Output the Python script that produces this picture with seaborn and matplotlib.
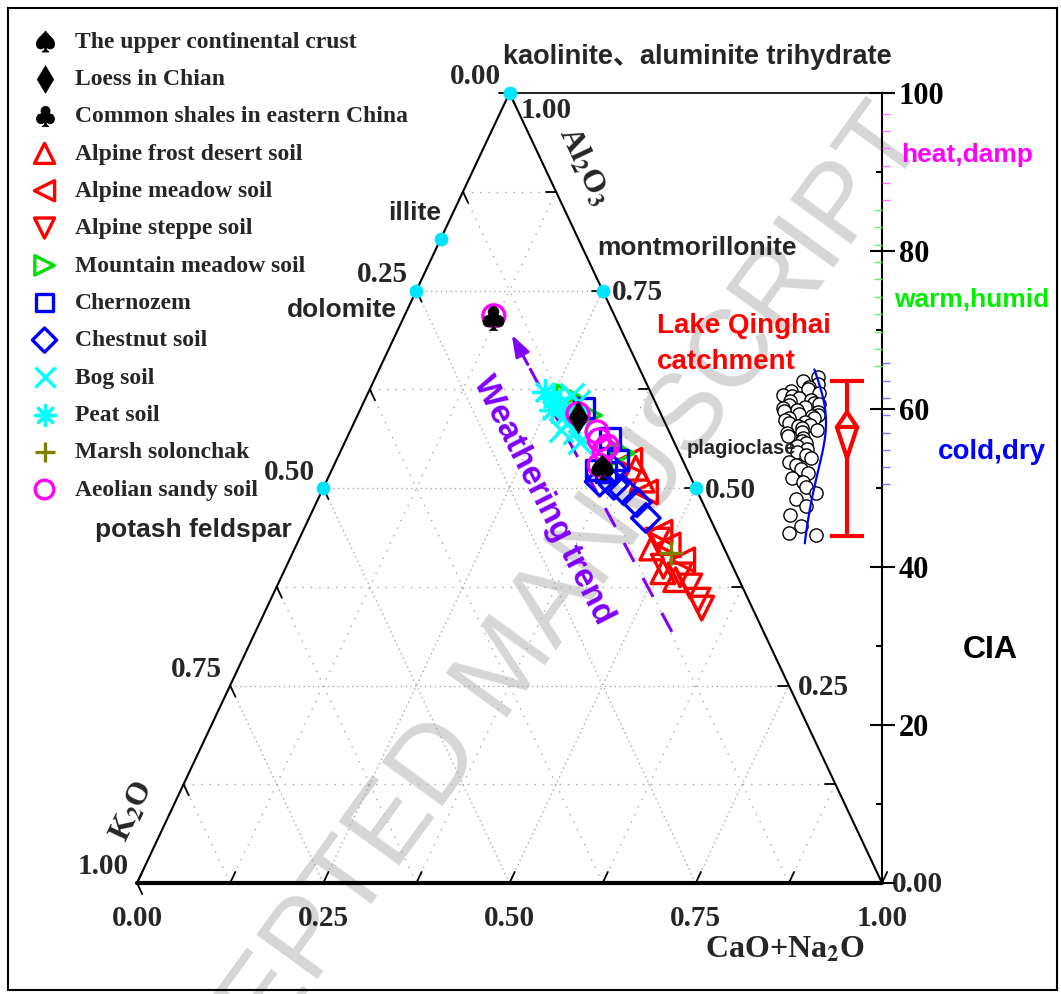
import numpy as np
import pandas as pd
import matplotlib
matplotlib.use('Agg')
import matplotlib.pyplot as plt
from matplotlib.patches import Rectangle
import seaborn as sns

ucc = [(0.527, 0.361)]
loess = [(0.590, 0.297)]
shale = [(0.715, 0.121)]
frost_desert = [(0.525, 0.407), (0.510, 0.423), (0.424, 0.479), (0.394, 0.509), (0.384, 0.531)]
alpine_meadow = [(0.535, 0.394), (0.495, 0.435), (0.444, 0.480), (0.428, 0.499), (0.409, 0.528)]
alpine_steppe = [(0.434, 0.482), (0.401, 0.506), (0.390, 0.534), (0.376, 0.554), (0.358, 0.574), (0.348, 0.584)]
mountain_meadow = [(0.616, 0.271), (0.592, 0.312), (0.544, 0.380)]
chernozem = [(0.601, 0.300), (0.563, 0.353), (0.535, 0.378), (0.520, 0.370), (0.523, 0.355)]
chestnut = [(0.508, 0.367), (0.504, 0.388), (0.497, 0.405), (0.482, 0.430), (0.462, 0.452), (0.523, 0.377)]
bog = [(0.618, 0.275), (0.609, 0.288), (0.584, 0.287), (0.571, 0.302), (0.558, 0.316), (0.573, 0.283)]
peat = [(0.622, 0.237), (0.614, 0.251), (0.605, 0.265), (0.599, 0.258), (0.594, 0.279)]
marsh = [(0.418, 0.508)]
aeolian = [(0.718, 0.120), (0.594, 0.295), (0.571, 0.332), (0.561, 0.340), (0.548, 0.353),
           (0.553, 0.355), (0.529, 0.356)]

minerals = ['kaolinite', 'illite', 'dolomite', 'montmorillonite', 'potash feldspar', 'plagioclase']
mineral_comp = [(1.0, 0.0), (0.815, 0.0), (0.75, 0.0), (0.75, 0.25), (0.5, 0.0), (0.5, 0.5)]

# weathering trend arrow, tail and head compositions
trend_start = (0.318, 0.559)
trend_end = (0.694, 0.156)

# CIA of catchment samples (right-hand strip)
cia_samples = [64.0, 63.5, 63.2, 62.8, 62.5, 62.3, 62.0, 61.8, 61.6, 61.4, 61.2, 61.0, 60.8, 60.6,
               60.5, 60.3, 60.1, 59.9, 59.8, 59.6, 59.4, 59.3, 59.1, 58.9, 58.8, 58.6, 58.4, 58.2,
               58.0, 57.8, 57.6, 57.4, 57.1, 56.9, 56.6, 56.3, 56.0, 55.7, 55.3, 55.0, 54.6, 54.2,
               53.8, 53.3, 52.9, 52.4, 51.9, 51.3, 50.7, 50.1, 49.4, 48.6, 47.7, 46.6, 45.2, 44.3, 44.0]
cia_range = (43.9, 63.5)
cia_diamond = (53.8, 57.7, 59.6)  # low, centre, high

# coloured marks on the CIA axis
heat_damp_ticks = [97.4, 95.2, 93.0, 90.8, 88.6, 86.5]
warm_humid_ticks = [85.2, 83.0, 80.8, 78.6, 76.4, 74.2, 72.0, 69.8, 67.6, 65.4]
cold_dry_ticks = [65.8, 63.6, 61.4, 59.2, 57.0, 54.8, 52.6, 50.5]

tern_ticks = [0, 0.125, 0.25, 0.375, 0.5, 0.625, 0.75, 0.875, 1.0]
tern_labels = ['0.00', '0.25', '0.50', '0.75', '1.00']
cia_ticks = [0, 20, 40, 60, 80, 100]

W, H = 1061, 994


def fx(px):
    return px / W


def fy(py):
    return 1 - py / H


def to_xy(al, cn):
    return cn + al / 2, al


series = {
    'The upper continental crust': ucc,
    'Loess in Chian': loess,
    'Common shales in eastern China': shale,
    'Alpine frost desert soil': frost_desert,
    'Alpine meadow soil': alpine_meadow,
    'Alpine steppe soil': alpine_steppe,
    'Mountain meadow soil': mountain_meadow,
    'Chernozem': chernozem,
    'Chestnut soil': chestnut,
    'Bog soil': bog,
    'Peat soil': peat,
    'Marsh solonchak': marsh,
    'Aeolian sandy soil': aeolian,
}
rows = []
for name, pts in series.items():
    for al, cn in pts:
        rows.append({'group': name, 'Al2O3': al, 'CN': cn})
df = pd.DataFrame(rows)
df['K2O'] = 1 - df['Al2O3'] - df['CN']
df['x'], df['y'] = to_xy(df['Al2O3'], df['CN'])

# marker styles: (marker, colour, kind, size, zorder)
styles = {
    'The upper continental crust': (r'$\spadesuit$', 'black', 'solid', 320, 12),
    'Loess in Chian': ('d', 'black', 'solid', 270, 12),
    'Common shales in eastern China': (r'$\clubsuit$', 'black', 'solid', 300, 12),
    'Alpine frost desert soil': ('^', '#ff0000', 'open', 290, 3),
    'Alpine meadow soil': ('<', '#ff0000', 'open', 290, 3),
    'Alpine steppe soil': ('v', '#ff0000', 'open', 290, 3),
    'Mountain meadow soil': ('>', '#00dd00', 'open', 270, 4),
    'Chernozem': ('s', '#0000ff', 'open', 210, 5),
    'Chestnut soil': ('D', '#0000ff', 'open', 210, 5),
    'Bog soil': ('x', '#00ffff', 'line', 290, 6),
    'Peat soil': ((8, 2, 0), '#00ffff', 'line', 290, 6),
    'Marsh solonchak': ('+', '#808000', 'line', 290, 7),
    'Aeolian sandy soil': ('o', '#ff00ff', 'open', 250, 8),
}

sns.set_style('white')
plt.rcParams['font.family'] = ['Liberation Sans', 'Noto Sans CJK SC']
plt.rcParams['mathtext.fontset'] = 'stix'

fig = plt.figure(figsize=(W / 100, H / 100), dpi=100)
ax = fig.add_axes([fx(137), fy(883), 745 / W, 790 / H])
ax.set_facecolor('none')

# grid
for t in tern_ticks[1:-1]:
    major = (t * 4) % 1 == 0
    kw = dict(color='#a8a8a8', lw=1, dashes=(1, 2.5) if major else (1, 5), zorder=1)
    ax.plot(*zip(to_xy(t, 0), to_xy(t, 1 - t)), **kw)
    ax.plot(*zip(to_xy(0, t), to_xy(1 - t, t)), **kw)
    ax.plot(*zip(to_xy(0, 1 - t), to_xy(1 - t, 0)), **kw)

# triangle frame
corners = [to_xy(0, 0), to_xy(0, 1), to_xy(1, 0), to_xy(0, 0)]
ax.plot(*zip(*corners), color='black', lw=1.5, zorder=2, clip_on=False)
ax.plot(*zip(to_xy(0, 0), to_xy(0, 1)), color='black', lw=3, zorder=2, clip_on=False)
ax.plot([to_xy(1, 0)[0], 1], [1, 1], color='black', lw=1.2, zorder=2, clip_on=False)

# edge ticks and labels
d = 0.014
lab_kw = dict(fontfamily='Liberation Serif', fontweight='bold', fontsize=21,
              textcoords='offset pixels', ha='center', va='center')
for t in tern_ticks:
    tk = dict(color='black', lw=1.3, clip_on=False, zorder=2)
    ax.plot(*zip(to_xy(0, t), to_xy(d, t)), **tk)
    ax.plot(*zip(to_xy(1 - t, 0), to_xy(1 - t - d, d)), **tk)
    ax.plot(*zip(to_xy(t, 1 - t), to_xy(t, 1 - t - d)), **tk)
for i, lab in enumerate(tern_labels):
    t = i * 0.25
    ax.annotate(lab, to_xy(0, t), xytext=(0, -36), **lab_kw)
    ax.annotate(lab, to_xy(1 - t, 0), xytext=(-34, 16), **lab_kw)
    off = (37, -17) if t == 1 else (35, -2)
    ax.annotate(lab, to_xy(t, 1 - t), xytext=off, **lab_kw)

# data
for name in ['Alpine frost desert soil', 'Alpine meadow soil', 'Alpine steppe soil',
             'Mountain meadow soil', 'Chernozem', 'Chestnut soil', 'Bog soil', 'Peat soil',
             'Marsh solonchak', 'Aeolian sandy soil', 'Common shales in eastern China',
             'Loess in Chian', 'The upper continental crust']:
    marker, col, kind, size, z = styles[name]
    kw = dict(marker=marker, s=size, zorder=z, label=name, ax=ax, color=col)
    if kind == 'open':
        kw.update(facecolor='none', edgecolor=col, linewidth=2.4)
    elif kind == 'line':
        kw.update(linewidth=2.4)
    else:
        kw.update(edgecolor=col, linewidth=0.5)
    sns.scatterplot(data=df[df['group'] == name], x='x', y='y', **kw)

mx, my = to_xy(np.array([c[0] for c in mineral_comp]), np.array([c[1] for c in mineral_comp]))
sns.scatterplot(x=mx, y=my, ax=ax, color='#00e5ff', edgecolor='#00e5ff', s=85, zorder=10,
                clip_on=False)

# weathering trend arrow
purple = '#8000ff'
sx, sy = to_xy(*trend_start)
ex, ey = to_xy(*trend_end)
hx, hy = sx + 0.9 * (ex - sx), sy + 0.9 * (ey - sy)
ax.plot([sx, hx], [sy, hy], color=purple, lw=2.2, dashes=(7, 6), zorder=2)
ax.annotate('', xy=(ex, ey), xytext=(hx, hy),
            arrowprops=dict(arrowstyle='-|>,head_length=1.3,head_width=0.45', color=purple,
                            lw=2.2, shrinkA=0, shrinkB=0))

ax.set_xlim(0, 1)
ax.set_ylim(0, 1)
ax.set_xticks([])
ax.set_yticks([])
ax.set_xlabel('')
ax.set_ylabel('')
for sp in ax.spines.values():
    sp.set_visible(False)

handles, labels = ax.get_legend_handles_labels()
hmap = dict(zip(labels, handles))
order = list(series.keys())
ax.legend([hmap[k] for k in order], order, loc='upper left',
          bbox_to_anchor=(fx(28), fy(31)), bbox_transform=fig.transFigure, frameon=False,
          prop=dict(family='Liberation Serif', weight='bold', size=17), labelspacing=0.67,
          handletextpad=0.6, handlelength=1.4, borderaxespad=0, borderpad=0, scatterpoints=1,
          markerscale=0.85)

# CIA axis
axc = ax.twinx()
axc.set_ylim(0, 100)
axc.set_yticks(cia_ticks)
axc.set_yticklabels([''] + [str(v) for v in cia_ticks[1:]])
axc.set_yticks([10, 30, 50, 70, 90], minor=True)
axc.tick_params(axis='y', which='major', direction='inout', length=18, width=1.5, pad=3,
                labelsize=22, colors='black')
axc.tick_params(axis='y', which='minor', direction='in', length=4, width=1.5, colors='black')
for lbl in axc.get_yticklabels():
    lbl.set_fontfamily('Liberation Serif')
    lbl.set_fontweight('bold')
for k, sp in axc.spines.items():
    sp.set_visible(k == 'right')
axc.spines['right'].set_linewidth(1.5)
axc.spines['right'].set_color('black')

for ticks, col, dirn in [(heat_damp_ticks, '#ff77ff', 'out'),
                         (warm_humid_ticks, '#66ee66', 'in'),
                         (cold_dry_ticks, '#7777ff', 'out')]:
    tw = ax.twinx()
    tw.set_ylim(0, 100)
    tw.set_yticks([])
    tw.set_yticks(ticks, minor=True)
    tw.tick_params(axis='y', which='minor', direction=dirn, length=6, width=1, colors=col)
    for sp in tw.spines.values():
        sp.set_visible(False)

# CIA strip, density and range
ax2 = fig.add_axes([fx(770), fy(883), 100 / W, 790 / H])
ax2.set_facecolor('none')
np.random.seed(4)
sns.stripplot(y=cia_samples, ax=ax2, jitter=0.4, size=9.5, color='white', edgecolor='black',
              linewidth=1, zorder=3)
lo, mid, hi = cia_diamond
ax2.errorbar([1], [mid], yerr=[[mid - cia_range[0]], [cia_range[1] - mid]], fmt='none',
             ecolor='red', elinewidth=3, capsize=12.5, capthick=3, zorder=3)
w = 0.22
ax2.fill([1, 1 + w, 1, 1 - w], [hi, mid, lo, mid], facecolor='white', edgecolor='red', lw=3,
         zorder=4)
ax2.plot([1 - w, 1 + w], [mid, mid], color='red', lw=3, zorder=5)
ax2.set_xlim(-0.674, 1.5)
ax2.set_ylim(0, 100)
ax2.axis('off')

ax3 = ax2.twiny()
sns.kdeplot(y=cia_samples, ax=ax3, color='#0000ff', lw=1.6, cut=0.2, bw_adjust=2.2)
peak = ax3.lines[0].get_xdata().max()
base, top = (800 - 770) / 100, (826 - 770) / 100
scale = peak / (top - base)
ax3.set_xlim(-base * scale, (1 - base) * scale)
ax3.set_ylim(0, 100)
ax3.axis('off')

# text
bold = dict(fontweight='bold', ha='center', va='center')
fig.text(fx(503), fy(57), 'kaolinite、aluminite trihydrate', fontsize=19.5, fontweight='bold',
         ha='left', va='center')
for name, px, py, fs in [('illite', 415, 213, 19), ('dolomite', 342, 310, 19),
                         ('montmorillonite', 697, 248, 19), ('potash feldspar', 193, 530, 19),
                         ('plagioclase', 741, 449, 14.5)]:
    fig.text(fx(px), fy(py), name, fontsize=fs, **bold)
fig.text(fx(657), fy(344), 'Lake Qinghai\ncatchment', color='#ff0000', fontsize=20,
         fontweight='bold', ha='left', va='center', linespacing=1.5)
fig.text(fx(543), fy(500), 'Weathering trend', color=purple, fontsize=24, rotation=-63,
         rotation_mode='anchor', **bold)
fig.text(fx(967), fy(155), 'heat,damp', color='#ff00ff', fontsize=19, **bold)
fig.text(fx(972), fy(300), 'warm,humid', color='#00ee00', fontsize=19, **bold)
fig.text(fx(992), fy(452), 'cold,dry', color='#0000ff', fontsize=20, **bold)
fig.text(fx(990), fy(650), 'CIA', color='black', fontsize=23, **bold)

serif = dict(fontfamily='Liberation Serif', fontweight='bold', fontsize=23, ha='center',
             va='center', rotation_mode='anchor')
fig.text(fx(584), fy(166), r'Al$_\mathbf{2}$O$_\mathbf{3}$', rotation=-64.8, **serif)
fig.text(fx(133), fy(812), r'K$_\mathbf{2}$O', rotation=64.8, **serif)
fig.text(fx(785), fy(950), r'CaO+Na$_\mathbf{2}$O', **serif)

fig.text(fx(508), fy(668), 'ACCEPTED MANUSCRIPT', rotation=54, fontsize=79, color='#d6d6d6',
         ha='center', va='center', rotation_mode='anchor', zorder=-1)

fig.add_artist(Rectangle((fx(8), fy(990)), (1049) / W, (982) / H, fill=False, lw=1.5,
                         ec='black', transform=fig.transFigure))

fig.savefig('out.png', dpi=100)
